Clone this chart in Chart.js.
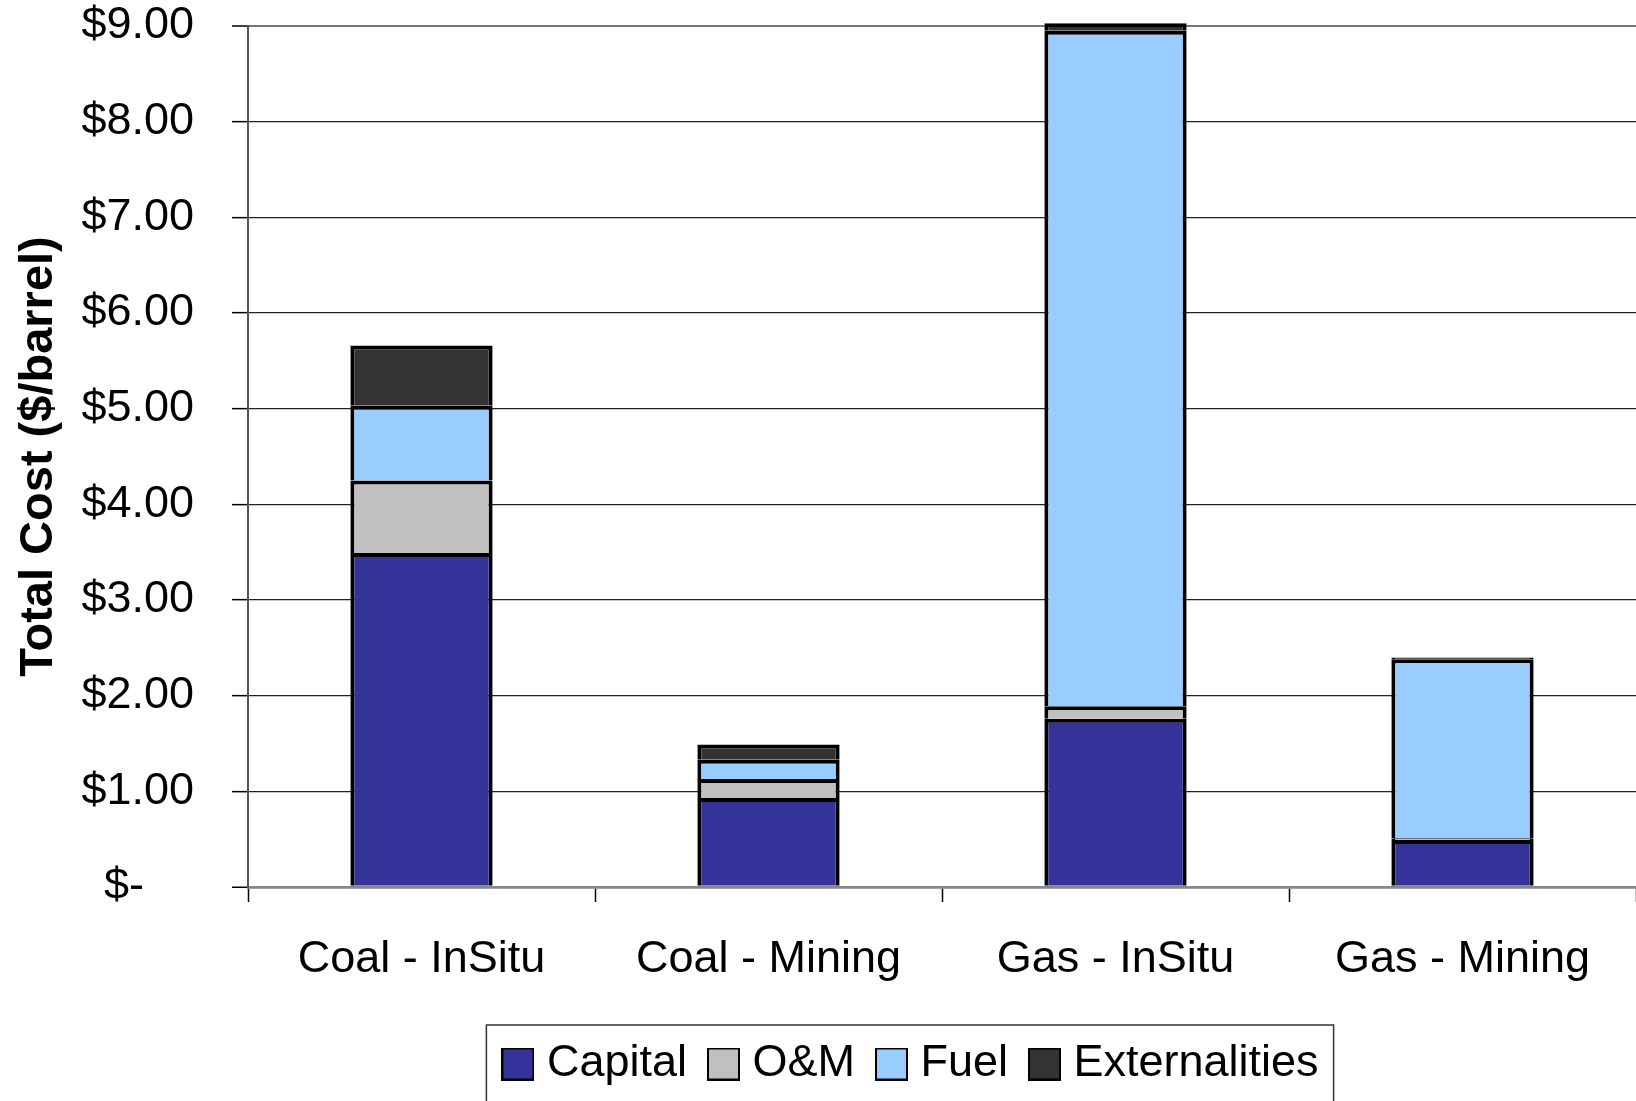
<!DOCTYPE html>
<html>
<head>
<meta charset="utf-8">
<script src="https://cdn.jsdelivr.net/npm/chart.js@4.4.0/dist/chart.umd.min.js"></script>
<style>
  html, body { margin: 0; padding: 0; background: #fff; }
  #wrap { width: 1636px; height: 1101px; }
</style>
</head>
<body>
<div id="wrap"><canvas id="c" width="1636" height="1101"></canvas></div>
<script>
// Cost breakdown per barrel, stacked bottom to top
const categories = ['Coal - InSitu', 'Coal - Mining', 'Gas - InSitu', 'Gas - Mining'];
const capital = [3.49, 0.93, 1.76, 0.49];
const operations = [0.76, 0.20, 0.13, 0.02];
const fuel = [0.78, 0.20, 7.06, 1.87];
const externalities = [0.63, 0.16, 0.08, 0.02];
const seriesNames = ['Capital', 'O&M', 'Fuel', 'Externalities'];
const yMin = 0, yMax = 9, yStep = 1;

const FONT = '"Liberation Sans", Arial, sans-serif';
const colors = ['#333399', '#C0C0C0', '#99CCFF', '#333333'];
const values = [capital, operations, fuel, externalities];

// Legend swatches: 33px squares with a thin black edge
const SWATCH = 33;
function makeSwatch(color) {
  const cv = document.createElement('canvas');
  cv.width = SWATCH; cv.height = SWATCH;
  const g = cv.getContext('2d');
  g.fillStyle = '#000';
  g.fillRect(0, 0, SWATCH, SWATCH);
  g.fillStyle = color;
  g.fillRect(2, 2, SWATCH - 4, SWATCH - 4);
  return cv;
}
const swatches = colors.map(makeSwatch);

// Nudge the legend row to the right and frame it
const LEGEND_SHIFT = 97;
const legendFrame = {
  id: 'legendFrame',
  afterLayout(chart) {
    const lg = chart.legend;
    if (!lg) return;
    lg.left += LEGEND_SHIFT;
    lg.right += LEGEND_SHIFT;
  },
  afterDraw(chart) {
    const boxes = chart.legend && chart.legend.legendHitBoxes;
    if (!boxes || !boxes.length) return;
    const first = boxes[0], last = boxes[boxes.length - 1];
    const cy = first.top + first.height / 2;
    const x0 = first.left - 25;
    const x1 = last.left + last.width + 15;
    const ctx = chart.ctx;
    ctx.save();
    ctx.strokeStyle = '#333';
    ctx.lineWidth = 1.5;
    ctx.strokeRect(x0, cy - 39, x1 - x0, 82);
    ctx.restore();
  }
};

new Chart(document.getElementById('c'), {
  type: 'bar',
  data: {
    labels: categories,
    datasets: seriesNames.map((name, i) => ({
      label: name,
      data: values[i],
      backgroundColor: colors[i],
      borderColor: '#000',
      borderWidth: 4,
      inflateAmount: 0,
      clip: false,
      barPercentage: 0.41,
      categoryPercentage: 1.0
    }))
  },
  options: {
    responsive: false,
    animation: false,
    devicePixelRatio: 1,
    layout: { padding: { top: 26, right: 0, bottom: 4.5, left: 0 } },
    plugins: {
      tooltip: { enabled: false },
      legend: {
        position: 'bottom',
        labels: {
          color: '#000',
          font: { family: FONT, size: 45 },
          usePointStyle: true,
          pointStyleWidth: 13,
          boxHeight: SWATCH,
          padding: 30,
          generateLabels(chart) {
            return Chart.defaults.plugins.legend.labels.generateLabels(chart)
              .map((l, i) => Object.assign(l, { pointStyle: swatches[i] }));
          }
        }
      }
    },
    scales: {
      x: {
        stacked: true,
        offset: true,
        afterFit(scale) { scale.height = 124.5; },
        grid: {
          offset: true,
          drawOnChartArea: false,
          tickLength: 15,
          tickColor: '#000',
          tickWidth: 1.5
        },
        border: { color: '#888', width: 2.5 },
        ticks: {
          color: '#000',
          font: { family: FONT, size: 45 },
          padding: 31,
          maxRotation: 0
        }
      },
      y: {
        stacked: true,
        min: yMin,
        max: yMax,
        afterFit(scale) {
          scale.width = 248;
          scale.paddingTop = 0;
          scale.paddingBottom = 0;
        },
        ticks: {
          stepSize: yStep,
          color: '#000',
          font: { family: FONT, size: 45 },
          padding: 38,
          callback: v => v === 0 ? '$-\u2007\u2007' : '$' + Number(v).toFixed(2)
        },
        grid: {
          color: c => c.tick && c.tick.value === 0 ? '#888' : (c.tick && c.tick.value === yMax ? '#777' : '#222'),
          lineWidth: c => c.tick && c.tick.value === 0 ? 2.5 : (c.tick && c.tick.value === yMax ? 2 : 1.3),
          tickLength: 16,
          tickColor: '#000',
          tickWidth: 1.5
        },
        border: { color: '#555', width: 2 },
        title: {
          display: true,
          text: 'Total Cost ($/barrel)',
          color: '#000',
          font: { family: FONT, size: 47, weight: 'bold' },
          padding: { top: 11, bottom: 0 }
        }
      }
    }
  },
  plugins: [legendFrame]
});
</script>
</body>
</html>
